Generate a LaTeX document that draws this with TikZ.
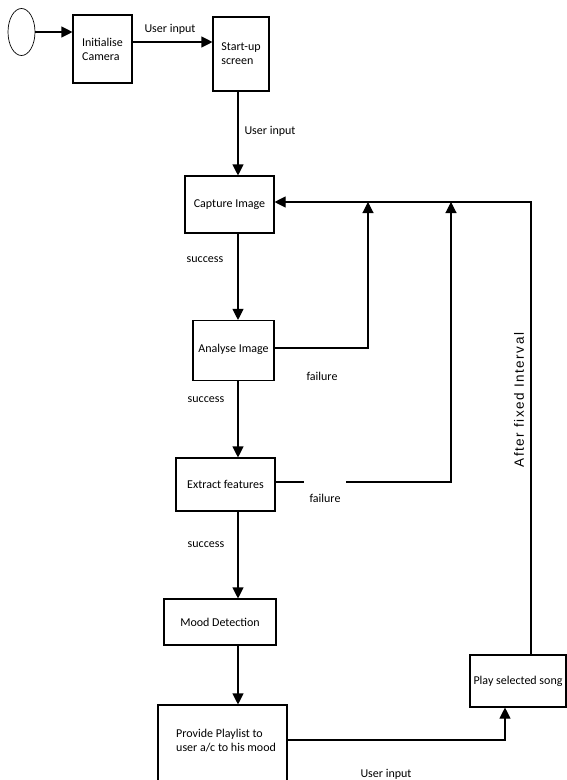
\documentclass[tikz,border=0pt]{standalone}
\usepackage{fontspec}
\setmainfont{Carlito}
\newfontfamily\labelsans[LetterSpace=11]{Liberation Sans}
\usetikzlibrary{arrows.meta,shapes.geometric}
\tikzset{
  box/.style={draw, line width=1.1pt, rectangle, inner sep=0pt, font=\fontsize{12}{14}\selectfont},
  arr/.style={line width=1.1pt, -{Triangle[length=11pt,width=11pt]}},
  lbl/.style={font=\fontsize{12}{14}\selectfont, inner sep=0pt},
}
\begin{document}
\begin{tikzpicture}[x=1pt,y=-1pt]
\clip (0,0) rectangle (567,780);
\fill[white] (0,0) rectangle (567,780);
\coordinate (col) at (238,0);
\coordinate (fb) at (531,202);
\coordinate (f1) at (368,202);
\coordinate (f2) at (451,202);

\node[draw, ellipse, line width=0.7pt, minimum width=27pt, minimum height=47pt, inner sep=0pt] (start) at (21.5,32) {};
\node[box, minimum width=59pt, minimum height=68pt, align=left] (init) at (102.5,49) {Initialise\\Camera};
\node[box, minimum width=56pt, minimum height=74pt, align=left] (startup) at (241,54) {Start-up\\screen};
\node[box, minimum width=89pt, minimum height=57pt] (capture) at (229.5,204.5) {Capture Image};
\node[box, minimum width=81pt, minimum height=60pt] (analyse) at (233.5,350.5) {\raisebox{5pt}{Analyse Image}};
\node[box, minimum width=99pt, minimum height=53pt] (extract) at (225.5,484.5) {Extract features};
\node[box, minimum width=112pt, minimum height=46pt] (mood) at (220,622) {Mood Detection};
\node[draw, line width=1.1pt, minimum width=129pt, minimum height=90pt, inner sep=0pt] (provide) at (222.5,750) {};
\node[lbl, align=left, anchor=west] (providetxt) at (176,741) {Provide Playlist to\\user a/c to his mood};
\node[box, minimum width=96pt, minimum height=52pt] (play) at (518,681) {Play selected song};

% main flow
\draw[arr] (start) -- (start -| init.west);
\draw[arr] ([yshift=7pt]init.east) -- ([yshift=7pt]init.east -| startup.west);
\draw[arr] (startup.south -| col) -- (capture.north -| col);
\draw[arr] (capture.south -| col) -- (analyse.north -| col);
\draw[arr] (analyse.south -| col) -- (extract.north -| col);
\draw[arr] (extract.south -| col) -- (mood.north -| col);
\draw[arr] (mood.south -| col) -- (provide.north -| col);

% feedback
\draw[arr] (play.north -| fb) -- (fb) -- ([yshift=2.5pt]capture.east);
\draw[arr] ([yshift=2.5pt]analyse.east) -| (f1);
\draw[arr] ([yshift=2.5pt]extract.east) -| (f2);
\draw[arr] (provide.east |- 0,740) -| (play.south -| 505,0);

% labels
\node[lbl] (l1) at (170,29) {User input};
\node[lbl] (l2) at (270,131) {User input};
\node[lbl] (l3) at (205,260) {success};
\node[lbl] (l4) at (322,376) {failure};
\node[lbl] (l5) at (206,400) {success};
\node[lbl, fill=white, minimum width=42pt, minimum height=38pt] (l6) at (325,498) {failure};
\node[lbl] (l7) at (206,545) {success};
\node[lbl] (l8) at (386,774) {User input};
\node[rotate=90, inner sep=0pt, font=\labelsans\fontsize{13.5}{16}\selectfont] (l9) at (519,400) {After fixed Interval};
\end{tikzpicture}
\end{document}
